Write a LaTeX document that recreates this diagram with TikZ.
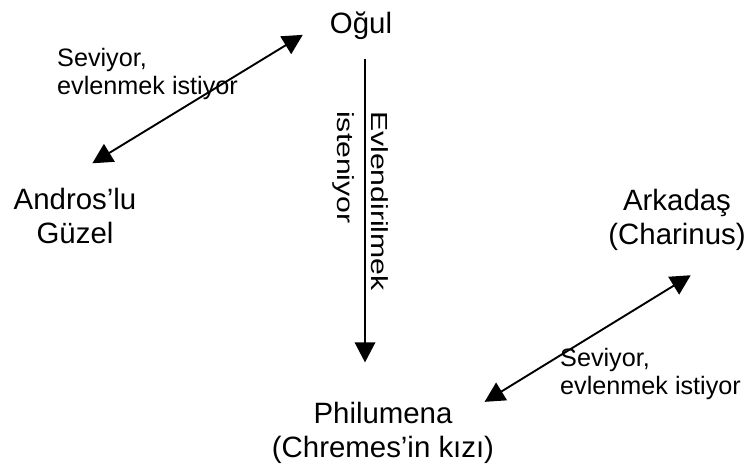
\documentclass[tikz,border=0pt]{standalone}
\usepackage{fontspec}
\setmainfont{Liberation Sans}
\usetikzlibrary{arrows.meta}
\tikzset{
    person/.style={
           inner sep=0pt,
           align=center,
           font=\fontsize{29.4}{34.3}\selectfont,
           },
    note/.style={
           inner sep=0pt,
           align=left,
           anchor=west,
           font=\fontsize{25.2}{27.6}\selectfont,
           },
    link/.style={
           line width=1.9pt,
           >={Triangle[length=20pt,width=20.5pt]},
           },
}

\begin{document}
\begin{tikzpicture}[x=1pt, y=-1pt]
    % size of the whole sheet
    \useasboundingbox (0,0) rectangle (749,464);

    % the persons
    \node[person] (ogul) at (361,25.6) {Oğul};
    \node[person] (andros) at (75,215.9) {Andros’lu\\Güzel};
    \node[person] (arkadas) at (677,219.6) {Arkadaş\\(Charinus)};
    \node[person] (philumena) at (383,432.9) {Philumena\\(Chremes’in kızı)};

    % the texts beside the links
    \node[note] (sevgiA) at (57,74.1) {Seviyor,\\evlenmek istiyor};
    \node[note] (sevgiB) at (560,374.1) {Seviyor,\\evlenmek istiyor};
    \node[note, rotate=-90, yscale=0.77,  	% turned, read from top to bottom
    font=\fontsize{30.2}{43.8}\selectfont] (evlilik) at (360.7,111)
    {Evlendirilmek\\isteniyor};

    % the links
    \draw[link, <->, shorten <=47pt, shorten >=31.6pt] (andros.129) -- (ogul.167);
    \draw[link, ->, shorten <=19pt, shorten >=39.5pt]
        ([xshift=4pt]ogul.south) -- ([xshift=4pt]ogul.south |- philumena.north);
    \draw[link, <->, shorten >=47pt] (philumena.17) -- (arkadas.-30);
\end{tikzpicture}
\end{document}
